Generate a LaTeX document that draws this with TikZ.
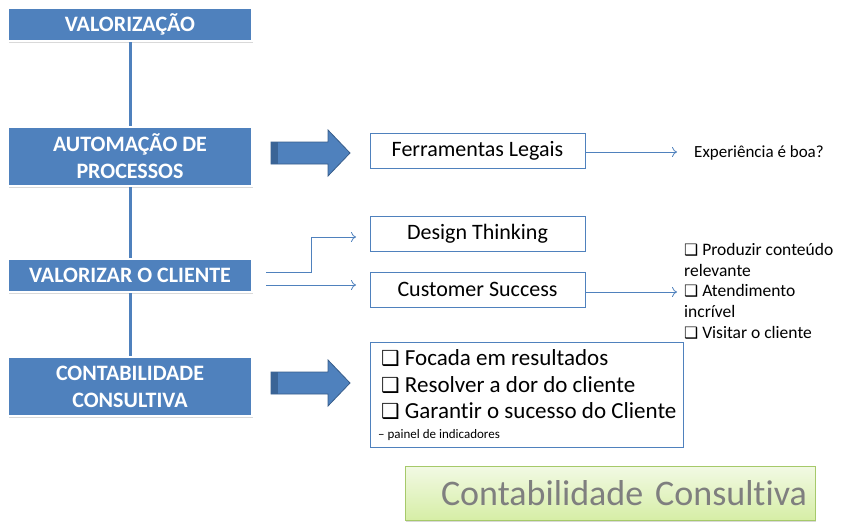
\documentclass[tikz,border=0pt]{standalone}
\usepackage{fontspec}
\setmainfont{Carlito}[Ligatures=NoCommon]
\newfontfamily\dejavu[Scale=0.9]{DejaVu Sans Bold}
\usetikzlibrary{shadows,arrows.meta}
\definecolor{blu}{HTML}{4F81BD}
\definecolor{bluedge}{HTML}{385D8A}
\definecolor{bludark}{HTML}{3A6496}
\definecolor{grnedge}{HTML}{A6C96A}
\definecolor{grntop}{HTML}{F2F9E4}
\definecolor{grnbot}{HTML}{D6EEA6}
\definecolor{graytxt}{HTML}{7F7F7F}
\newcommand{\cbx}{{\dejavu\char"2751}}
\begin{document}
\begin{tikzpicture}[x=1pt,y=-1pt,
  mainbox/.style={fill=blu, draw=white, line width=2.5pt, text=white,
    font=\bfseries\fontsize{22}{27}\selectfont, align=center,
    minimum width=244pt, inner sep=0pt,
    drop shadow={shadow xshift=0.8pt, shadow yshift=-1.8pt, opacity=.3}},
  obox/.style={draw=blu, fill=white, line width=0.8pt, minimum width=215pt,
    minimum height=35pt, font=\fontsize{22}{26}\selectfont, inner sep=0pt},
  ctext/.style={anchor=base west, inner sep=0pt, font=\fontsize{23}{27}\selectfont},
  conn/.style={draw=blu, line width=0.8pt, -{To[length=5pt,width=10pt]}},
  spine/.style={draw=blu, line width=3pt},
  blockarrow/.style={fill=blu, draw=bluedge, line width=0.8pt, line join=miter}]
\useasboundingbox (0,0) rectangle (846,528);

% left column boxes
\node[mainbox, minimum height=33pt] (vz) at (130,24.5) {VALORIZAÇÃO};
\node[mainbox, minimum height=59pt] (au) at (130,156.5) {AUTOMAÇÃO DE\\PROCESSOS};
\node[mainbox, minimum height=33pt] (vc) at (130,275.5) {VALORIZAR O CLIENTE};
\node[mainbox, minimum height=59pt] (cc) at (130,386.5) {CONTABILIDADE\\CONSULTIVA};

\draw[spine] (vz.south) -- (au.north);
\draw[spine] (au.south) -- (vc.north);
\draw[spine] (vc.south) -- (cc.north);

% block arrows
\draw[blockarrow] (271,142) -- (328,142) -- (328,130) -- (350,153) -- (328,176) -- (328,164) -- (271,164) -- cycle;
\fill[bludark] (271.4,142.4) rectangle (278,163.6);
\draw[blockarrow] (271,372) -- (328,372) -- (328,360) -- (350,383) -- (328,406) -- (328,394) -- (271,394) -- cycle;
\fill[bludark] (271.4,372.4) rectangle (278,393.6);

% right boxes
\node[obox] (fe) at (477.5,151) {Ferramentas Legais};
\node[obox] (dt) at (477.5,234) {Design Thinking};
\node[obox] (cs) at (477.5,289.5) {Customer Success};

\node[anchor=west, font=\fontsize{17}{20}\selectfont, inner sep=0pt] (ex) at (694,153) {Experiência é boa?};
\coordinate (exend) at (677,152);
\draw[conn] (fe.east |- exend) -- (exend);

% from valorizar o cliente
\coordinate (v1) at (266,272);
\coordinate (v2) at (266,285);
\coordinate (d1) at (356,237);
\coordinate (c1) at (356,285);
\draw[conn] (v1) -- (311,272) |- (d1);
\draw[conn] (v2) -- (c1);

% customer success list
\node[anchor=north west, align=left, inner sep=0pt,
  font=\fontsize{17.5}{20.8}\selectfont] (cl) at (684,243)
  {\cbx\ Produzir conteúdo\\relevante\\\cbx\ Atendimento\\incrível\\\cbx\ Visitar o cliente};
\coordinate (csend) at (677,292);
\draw[conn] (cs.east |- csend) -- (csend);

% contabilidade consultiva box
\node[draw=blu, fill=white, line width=0.8pt, minimum width=313pt, minimum height=105pt, inner sep=0pt] (cb) at (526.5,394.5) {};
\node[ctext] (t1) at (381,365.5) {\cbx\ Focada em resultados};
\node[ctext] (t2) at (381,392) {\cbx\ Resolver a dor do cliente};
\node[ctext] (t3) at (381,418.5) {\cbx\ Garantir o sucesso do Cliente};
\node[anchor=base west, inner sep=0pt, font=\fontsize{13}{15}\selectfont] (pi) at (378,438) {– painel de indicadores};

% green title box
\node[draw=grnedge, line width=0.8pt, top color=grntop, bottom color=grnbot,
  minimum width=410pt, minimum height=54pt, text width=394pt, inner xsep=8pt,
  align=right, text=graytxt, font=\fontsize{36}{40}\selectfont,
  drop shadow={shadow xshift=1pt, shadow yshift=-2pt, opacity=.3}] (gt) at (610,493) {Contabilidade Consultiva};
\end{tikzpicture}
\end{document}
